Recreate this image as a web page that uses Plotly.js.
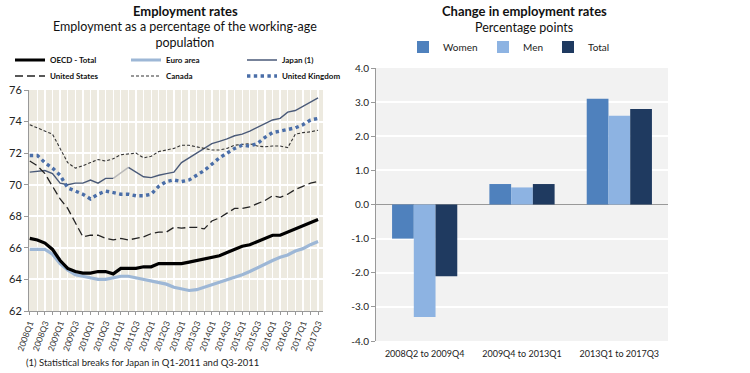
<!DOCTYPE html>
<html>
<head>
<meta charset="utf-8">
<script src="https://cdn.plot.ly/plotly-3.0.1.min.js"></script>
<style>
  html, body { margin: 0; padding: 0; background: #ffffff; }
  #chart { width: 750px; height: 373px; }
</style>
</head>
<body>
<div id="chart"></div>
<script>
// ---------- DATA ----------
const quarters = [
  '2008Q1','2008Q2','2008Q3','2008Q4','2009Q1','2009Q2','2009Q3','2009Q4',
  '2010Q1','2010Q2','2010Q3','2010Q4','2011Q1','2011Q2','2011Q3','2011Q4',
  '2012Q1','2012Q2','2012Q3','2012Q4','2013Q1','2013Q2','2013Q3','2013Q4',
  '2014Q1','2014Q2','2014Q3','2014Q4','2015Q1','2015Q2','2015Q3','2015Q4',
  '2016Q1','2016Q2','2016Q3','2016Q4','2017Q1','2017Q2','2017Q3'
];
const oecdTotal = [66.6,66.5,66.3,65.9,65.2,64.7,64.5,64.4,64.4,64.5,64.5,64.35,64.7,64.7,64.7,64.8,
  64.8,65.0,65.0,65.0,65.0,65.1,65.2,65.3,65.4,65.5,65.7,65.9,66.1,66.2,66.4,66.6,
  66.8,66.8,67.0,67.15,67.35,67.55,67.8];
const euroArea = [65.9,65.9,65.9,65.6,65.0,64.6,64.3,64.2,64.1,64.0,64.0,64.1,64.2,64.2,64.1,64.0,
  63.9,63.8,63.7,63.5,63.4,63.3,63.35,63.5,63.65,63.8,63.95,64.1,64.3,64.5,64.75,65.0,
  65.2,65.4,65.55,65.8,65.95,66.2,66.4];
const japan = [70.8,70.85,70.9,70.7,70.1,70.0,70.1,70.1,70.3,70.1,70.4,70.4,70.75,71.1,70.8,70.5,
  70.45,70.6,70.7,70.8,71.4,71.7,72.0,72.3,72.6,72.75,72.9,73.1,73.2,73.4,73.65,73.85,
  74.1,74.2,74.6,74.7,74.95,75.2,75.5];
const unitedStates = [71.5,71.2,70.7,69.9,69.1,68.5,67.6,66.7,66.8,66.8,66.6,66.5,66.6,66.5,66.6,66.7,
  66.9,67.0,67.0,67.3,67.25,67.3,67.3,67.2,67.7,67.9,68.2,68.5,68.5,68.6,68.8,69.0,
  69.3,69.2,69.4,69.7,69.9,70.1,70.2];
const canada = [73.8,73.6,73.4,73.2,72.3,71.4,71.05,71.2,71.4,71.6,71.5,71.65,71.9,71.95,72.0,71.7,
  71.8,72.1,72.2,72.3,72.5,72.5,72.4,72.3,72.2,72.2,72.3,72.5,72.55,72.6,72.45,72.4,
  72.45,72.45,72.35,73.2,73.3,73.35,73.45];
const unitedKingdom = [71.85,71.85,71.4,71.05,70.6,69.8,69.6,69.4,69.1,69.4,69.6,69.5,69.4,69.4,69.3,69.3,
  69.4,69.9,70.2,70.3,70.2,70.3,70.6,70.9,71.3,71.7,72.0,72.3,72.5,72.45,72.6,73.0,
  73.3,73.4,73.5,73.6,73.8,74.1,74.2];
// Japan statistical-break segment (indices drawn in grey)
const japanBreakIdx = [11, 12, 13];

const periods = ['2008Q2 to 2009Q4', '2009Q4 to 2013Q1', '2013Q1 to 2017Q3'];
const women = [-1.0, 0.6, 3.1];
const men   = [-3.3, 0.5, 2.6];
const total = [-2.1, 0.6, 2.8];

const lineYTicks = [62, 64, 66, 68, 70, 72, 74, 76];
const barYTickVals = [-4, -3, -2, -1, 0, 1, 2, 3, 4];
const barYTickText = ['-4.0', '-3.0', '-2.0', '-1.0', '0.0', '1.0', '2.0', '3.0', '4.0'];

// ---------- GEOMETRY ----------
const W = 750, H = 373, ML = 29, MR = 82, MT = 68, MB = 32;
const GW = W - ML - MR, GH = H - MT - MB;
const px = x => (x - ML) / GW;
const py = y => (H - MB - y) / GH;

const xIdx = quarters.map((q, i) => i);
const tickIdx = xIdx.filter(i => i % 2 === 0);
const tickLbl = tickIdx.map(i => quarters[i]);

const japanMain = japan.map((v, i) => (i > japanBreakIdx[0] && i < japanBreakIdx[japanBreakIdx.length - 1]) ? null : v);

const FONT = 'Lato, "Open Sans", sans-serif';

const traces = [
  { x: xIdx, y: euroArea, name: 'Euro area', type: 'scatter', mode: 'lines', legend: 'legend',
    line: { color: '#9db7d6', width: 3.2 }, legendrank: 2 },
  { x: xIdx, y: oecdTotal, name: 'OECD - Total', type: 'scatter', mode: 'lines', legend: 'legend',
    line: { color: '#000000', width: 3.2 }, legendrank: 1 },
  { x: xIdx, y: japanMain, name: 'Japan (1)', type: 'scatter', mode: 'lines', legend: 'legend',
    line: { color: '#4a5a78', width: 1.4 }, connectgaps: false, legendrank: 3 },
  { x: japanBreakIdx, y: japanBreakIdx.map(i => japan[i]), name: 'Japan break', type: 'scatter', mode: 'lines',
    line: { color: '#b8b8b8', width: 1.4 }, showlegend: false },
  { x: xIdx, y: unitedStates, name: 'United States', type: 'scatter', mode: 'lines', legend: 'legend2',
    line: { color: '#222222', width: 1.3, dash: '8px,4px' }, legendrank: 4 },
  { x: xIdx, y: canada, name: 'Canada', type: 'scatter', mode: 'lines', legend: 'legend2',
    line: { color: '#333333', width: 1.1, dash: '3px,2px' }, legendrank: 5 },
  { x: xIdx, y: unitedKingdom, name: 'United Kingdom', type: 'scatter', mode: 'lines', legend: 'legend2',
    line: { color: '#4a6ea8', width: 3.4, dash: '3.4px,3.4px' }, legendrank: 6 },
  { x: periods, y: women, name: 'Women', type: 'bar', xaxis: 'x2', yaxis: 'y2', legend: 'legend3',
    marker: { color: '#4f81bd' }, legendwidth: 35 },
  { x: periods, y: men, name: 'Men', type: 'bar', xaxis: 'x2', yaxis: 'y2', legend: 'legend3',
    marker: { color: '#8db3e2' }, legendwidth: 20 },
  { x: periods, y: total, name: 'Total', type: 'bar', xaxis: 'x2', yaxis: 'y2', legend: 'legend3',
    marker: { color: '#1f3a60' } }
];

const legendBase = {
  orientation: 'h', xref: 'paper', yref: 'paper', xanchor: 'left', yanchor: 'middle',
  bgcolor: 'rgba(0,0,0,0)', borderwidth: 0, traceorder: 'normal', itemclick: false, itemdoubleclick: false
};

const layout = {
  width: W, height: H,
  margin: { l: ML, r: MR, t: MT, b: MB, pad: 0, autoexpand: false },
  paper_bgcolor: '#ffffff', plot_bgcolor: 'rgba(0,0,0,0)',
  font: { family: FONT, color: '#222222', size: 10 },
  showlegend: true,
  barmode: 'group', bargap: 0.33, bargroupgap: 0,
  xaxis: {
    domain: [0, px(323)], range: [-0.1, 38.65], anchor: 'y',
    tickmode: 'array', tickvals: tickIdx, ticktext: tickLbl, tickangle: -70,
    tickfont: { size: 8.5, color: '#333' },
    showgrid: true, gridcolor: '#ffffff', gridwidth: 1.3,
    minor: { tickmode: 'linear', tick0: 0, dtick: 1, showgrid: true, gridcolor: '#ffffff', gridwidth: 1.3,
             ticks: 'outside', ticklen: 3, tickcolor: '#999' },
    ticks: 'outside', ticklen: 3, tickcolor: '#999',
    showline: true, linecolor: '#999', linewidth: 1, zeroline: false
  },
  yaxis: {
    domain: [py(311), py(90)], range: [62, 76], anchor: 'x',
    tickmode: 'array', tickvals: lineYTicks, tickfont: { size: 11, color: '#222' },
    showgrid: true, gridcolor: '#ffffff', gridwidth: 2,
    ticks: 'outside', ticklen: 4, tickcolor: '#999',
    showline: true, linecolor: '#999', linewidth: 1, zeroline: false
  },
  xaxis2: {
    domain: [px(376), 1], anchor: 'y2', type: 'category',
    tickfont: { size: 9, color: '#222' }, showgrid: false, showline: false, ticks: '',
    ticklabelstandoff: 6
  },
  yaxis2: {
    domain: [0, 1], anchor: 'x2', range: [-4, 4],
    tickmode: 'array', tickvals: barYTickVals, ticktext: barYTickText,
    tickfont: { size: 10, color: '#222' },
    showgrid: true, gridcolor: '#ffffff', gridwidth: 2,
    ticks: 'outside', ticklen: 4, tickcolor: '#999',
    showline: true, linecolor: '#999', linewidth: 1,
    zeroline: true, zerolinecolor: '#999', zerolinewidth: 1
  },
  legend: Object.assign({}, legendBase, {
    x: px(10), y: py(60), font: { family: FONT, size: 8, color: '#111', weight: 'bold' },
    entrywidth: 71
  }),
  legend2: Object.assign({}, legendBase, {
    x: px(10), y: py(76), font: { family: FONT, size: 8, color: '#111', weight: 'bold' },
    entrywidth: 71
  }),
  legend3: Object.assign({}, legendBase, {
    x: px(403), y: py(47), font: { family: FONT, size: 10, color: '#222' }
  }),
  shapes: [
    { type: 'rect', xref: 'x domain', yref: 'y domain', x0: 0, x1: 1, y0: 0, y1: 1,
      fillcolor: '#edeae0', line: { width: 0 }, layer: 'below' },
    { type: 'rect', xref: 'x2 domain', yref: 'y2 domain', x0: 0, x1: 1, y0: 0, y1: 1,
      fillcolor: '#f2f2f2', line: { width: 0 }, layer: 'below' }
  ],
  annotations: [
    { text: '<b>Employment rates</b>', xref: 'paper', yref: 'paper', x: px(185), y: py(11),
      xanchor: 'center', yanchor: 'middle', showarrow: false, font: { family: FONT, size: 13, color: '#111' } },
    { text: 'Employment as a percentage of the working-age<br>population', xref: 'paper', yref: 'paper',
      x: px(185), y: py(35), xanchor: 'center', yanchor: 'middle', showarrow: false,
      font: { family: FONT, size: 12.5, color: '#111' } },
    { text: '<b>Change in employment rates</b>', xref: 'paper', yref: 'paper', x: px(524), y: py(11),
      xanchor: 'center', yanchor: 'middle', showarrow: false, font: { family: FONT, size: 13, color: '#111' } },
    { text: 'Percentage points', xref: 'paper', yref: 'paper', x: px(524), y: py(27),
      xanchor: 'center', yanchor: 'middle', showarrow: false, font: { family: FONT, size: 12.5, color: '#111' } },
    { text: '(1) Statistical breaks for Japan in Q1-2011 and Q3-2011', xref: 'paper', yref: 'paper',
      x: px(24), y: py(362), xanchor: 'left', yanchor: 'middle', showarrow: false,
      font: { family: FONT, size: 9.5, color: '#222' } }
  ]
};

Plotly.newPlot('chart', traces, layout, { staticPlot: true, displayModeBar: false });
</script>
</body>
</html>
